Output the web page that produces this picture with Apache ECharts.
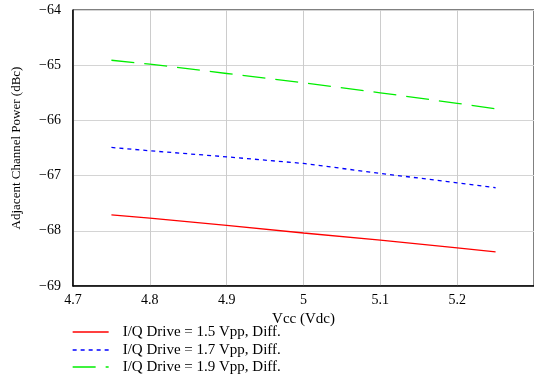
<!DOCTYPE html>
<html>
<head>
<meta charset="utf-8">
<script src="https://cdn.jsdelivr.net/npm/echarts@6/dist/echarts.min.js"></script>
<style>
  html, body { margin: 0; padding: 0; background: #fff; }
  #chart { width: 534px; height: 377px; }
</style>
</head>
<body>
<div id="chart"></div>
<script>
// Supply voltage sweep (Vdc)
const vcc = [4.75, 4.8, 4.9, 5.0, 5.1, 5.2, 5.25];

// Adjacent channel power (dBc) for each I/Q drive level
const acp15 = [-67.71, -67.77, -67.90, -68.04, -68.17, -68.31, -68.38];
const acp17 = [-66.49, -66.55, -66.66, -66.78, -66.96, -67.13, -67.22];
const acp19 = [-64.91, -64.98, -65.15, -65.32, -65.50, -65.69, -65.79];

const seriesNames = [
  'I/Q Drive = 1.5 Vpp, Diff.',
  'I/Q Drive = 1.7 Vpp, Diff.',
  'I/Q Drive = 1.9 Vpp, Diff.'
];

const FONT = 'Liberation Serif';

function pairs(ys) {
  return vcc.map((x, i) => [x, ys[i]]);
}

function lineSeries(name, ys, color, dash) {
  return {
    name: name,
    type: 'line',
    data: pairs(ys),
    symbol: 'none',
    smooth: false,
    lineStyle: { color: color, width: 1.3, type: dash },
    itemStyle: { color: color }
  };
}

// One legend row per series, stacked under the plot
function legendRow(name, top) {
  return {
    orient: 'vertical',
    left: 72, top: top,
    padding: 0,
    itemWidth: 36, itemHeight: 13,
    // line samples only, no marker dot
    itemStyle: { opacity: 0 },
    lineStyle: { width: 1.3 },
    textStyle: {
      fontFamily: FONT, fontSize: 15, lineHeight: 13, color: '#000',
      padding: [0, 0, 0, 9]
    },
    data: [{ name: name }]
  };
}

const chart = echarts.init(document.getElementById('chart'), null, { renderer: 'canvas' });

chart.setOption({
  animation: false,
  backgroundColor: '#fff',
  grid: {
    left: 73, right: 0, top: 10, bottom: 91,
    show: true, borderColor: '#000', borderWidth: 1
  },
  xAxis: {
    type: 'value',
    min: 4.7, max: 5.3, interval: 0.1,
    name: 'Vcc (Vdc)',
    nameLocation: 'middle',
    nameGap: 20,
    nameTextStyle: { fontFamily: FONT, fontSize: 15, color: '#000' },
    axisLine: { show: true, lineStyle: { color: '#000', width: 1.5 } },
    axisTick: { show: false },
    axisLabel: {
      fontFamily: FONT, fontSize: 14, color: '#000', margin: 7,
      showMaxLabel: false,
      formatter: v => String(Math.round(v * 10) / 10)
    },
    splitLine: { show: true, lineStyle: { color: '#cccccc', width: 1 } }
  },
  yAxis: {
    type: 'value',
    min: -69, max: -64, interval: 1,
    name: 'Adjacent Channel Power (dBc)',
    nameLocation: 'middle',
    nameGap: 50,
    nameTextStyle: { fontFamily: FONT, fontSize: 13, color: '#000' },
    axisLine: { show: true, lineStyle: { color: '#000', width: 1.5 } },
    axisTick: { show: false },
    axisLabel: {
      fontFamily: FONT, fontSize: 14, color: '#000', margin: 12,
      formatter: v => String(v).replace('-', '\u2212')
    },
    splitLine: { show: true, lineStyle: { color: '#d4d4d4', width: 1 } }
  },
  legend: [
    legendRow(seriesNames[0], 324.5),
    legendRow(seriesNames[1], 342.5),
    legendRow(seriesNames[2], 359.5)
  ],
  series: [
    lineSeries(seriesNames[0], acp15, '#ff0000', 'solid'),
    lineSeries(seriesNames[1], acp17, '#0000ff', [4, 4]),
    lineSeries(seriesNames[2], acp19, '#00ee00', [23, 10])
  ]
});
</script>
</body>
</html>
